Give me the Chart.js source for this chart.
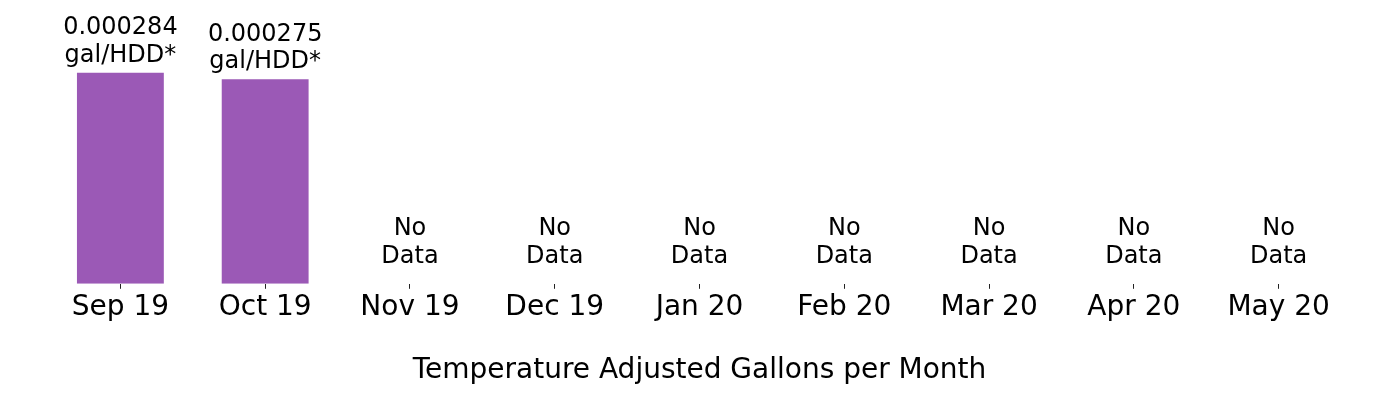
<!DOCTYPE html>
<html>
<head>
<meta charset="utf-8">
<script src="https://cdn.jsdelivr.net/npm/chart.js@4.4.1/dist/chart.umd.min.js"></script>
<style>
  html, body { margin: 0; padding: 0; background: #fff; }
  #wrap { width: 1400px; height: 400px; }
</style>
</head>
<body>
<div id="wrap"><canvas id="usageChart"></canvas></div>
<script>
// chart data
const months = ['Sep 19', 'Oct 19', 'Nov 19', 'Dec 19', 'Jan 20', 'Feb 20', 'Mar 20', 'Apr 20', 'May 20'];
const gallonsPerHdd = [0.000284, 0.000275, null, null, null, null, null, null, null];
const barLabels = ['0.000284', '0.000275'];
const unitLabel = 'gal/HDD*';
const noDataLabel = ['No', 'Data'];
const axisTitle = 'Temperature Adjusted Gallons per Month';

const FONT = "'DejaVu Sans', sans-serif";

// labels above bars / "No Data" for empty months
const barLabelPlugin = {
    id: 'barLabels',
    afterDatasetsDraw(chart) {
        const { ctx, scales: { x, y } } = chart;
        ctx.save();
        ctx.font = '24px ' + FONT;
        ctx.fillStyle = '#000';
        ctx.textAlign = 'center';
        ctx.textBaseline = 'alphabetic';
        const lineH = 27.5;
        gallonsPerHdd.forEach((v, i) => {
            const px = x.getPixelForValue(i);
            let lines, base;
            if (v === null) {
                lines = noDataLabel;
                base = y.getPixelForValue(0) - 21;
            } else {
                lines = [barLabels[i], unitLabel];
                base = y.getPixelForValue(v) - 11;
            }
            for (let k = lines.length - 1; k >= 0; k--) {
                ctx.fillText(lines[k], px, base - (lines.length - 1 - k) * lineH);
            }
        });
        ctx.restore();
    }
};

new Chart(document.getElementById('usageChart'), {
    type: 'bar',
    data: {
        labels: months,
        datasets: [{
            data: gallonsPerHdd,
            backgroundColor: '#9b59b6',
            borderWidth: 0,
            categoryPercentage: 1.0,
            barPercentage: 0.6
        }]
    },
    options: {
        responsive: true,
        maintainAspectRatio: false,
        animation: false,
        devicePixelRatio: 1,
        layout: { padding: { left: 48, right: 49, top: 10, bottom: 12 } },
        plugins: {
            legend: { display: false },
            tooltip: { enabled: false }
        },
        scales: {
            x: {
                border: { display: false },
                grid: {
                    offset: false,
                    drawOnChartArea: false,
                    drawTicks: true,
                    tickLength: 5,
                    tickWidth: 1,
                    tickColor: '#222'
                },
                ticks: {
                    color: '#000',
                    padding: 2,
                    maxRotation: 0,
                    font: { family: FONT, size: 28 }
                },
                title: {
                    display: true,
                    text: axisTitle,
                    color: '#000',
                    padding: { top: 28, bottom: 0 },
                    font: { family: FONT, size: 28 }
                }
            },
            y: {
                display: false,
                min: 0,
                max: 0.0003683
            }
        }
    },
    plugins: [barLabelPlugin]
});
</script>
</body>
</html>
